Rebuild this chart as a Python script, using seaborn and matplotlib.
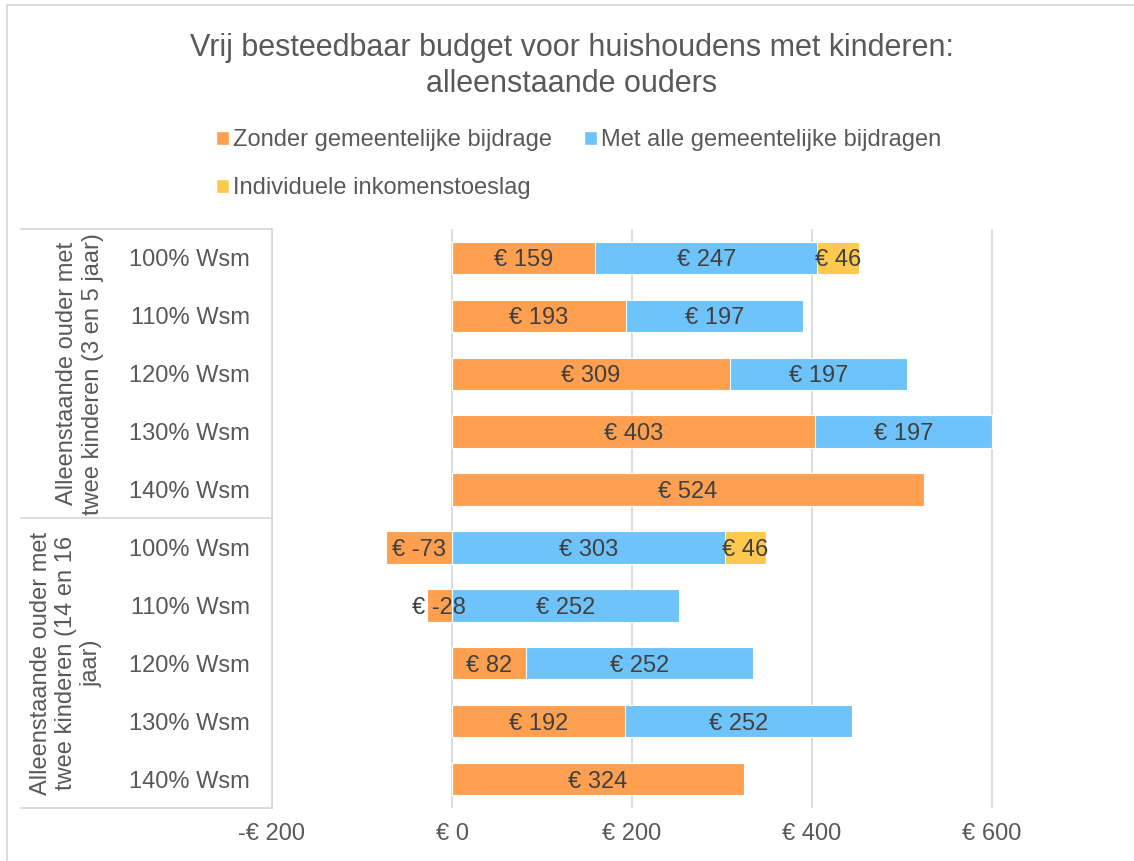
import matplotlib
matplotlib.use("Agg")
import matplotlib.pyplot as plt
import matplotlib.transforms as mtransforms
from matplotlib.patches import Patch
from matplotlib.ticker import FuncFormatter
import numpy as np
import pandas as pd
import seaborn as sns

# data (van boven naar beneden)
groepen = ["Alleenstaande ouder met\ntwee kinderen (3 en 5 jaar)",
           "Alleenstaande ouder met\ntwee kinderen (14 en 16\njaar)"]
wsm = ["100% Wsm", "110% Wsm", "120% Wsm", "130% Wsm", "140% Wsm"]
zonder = [159, 193, 309, 403, 524, -73, -28, 82, 192, 324]
met_alle = [247, 197, 197, 197, 0, 303, 252, 252, 252, 0]
iit = [46, 0, 0, 0, 0, 46, 0, 0, 0, 0]
series = ["Zonder gemeentelijke bijdrage", "Met alle gemeentelijke bijdragen",
          "Individuele inkomenstoeslag"]
kleuren = ["#FF9F50", "#6EC3FB", "#FFC84F"]
xticks = [-200, 0, 200, 400, 600]

sns.set_style("white")
plt.rcParams["font.family"] = ["Liberation Sans", "DejaVu Sans"]
grijs = "#595959"
lijn = "#D9D9D9"

# stapelen zoals Excel: negatief naar links vanaf 0, positief naar rechts
keys = [f"r{i}" for i in range(len(zonder))]
df = pd.DataFrame({"key": keys, "zonder": zonder, "met": met_alle, "iit": iit})
df["z_pos"] = df["zonder"].clip(lower=0)
df["z_neg"] = df["zonder"].clip(upper=0)
df["met_end"] = df["z_pos"] + df["met"]
df["iit_end"] = df["met_end"] + df["iit"]

fig = plt.figure(figsize=(11.34, 8.61), dpi=100)
ax = fig.add_axes([272 / 1134, 1 - 808 / 861, 1 - 272 / 1134, (808 - 229) / 861])

bw = 0.56
kw = dict(y="key", order=keys, orient="h", width=bw, saturation=1,
          edgecolor="white", linewidth=0.8, ax=ax)
sns.barplot(data=df, x="iit_end", color=kleuren[2], **kw)
sns.barplot(data=df, x="met_end", color=kleuren[1], **kw)
sns.barplot(data=df, x="z_pos", color=kleuren[0], **kw)
sns.barplot(data=df, x="z_neg", color=kleuren[0], **kw)

# data labels
for i, r in df.iterrows():
    segs = [(r["zonder"], r["zonder"] / 2),
            (r["met"], r["z_pos"] + r["met"] / 2),
            (r["iit"], r["met_end"] + r["iit"] / 2)]
    for v, xc in segs:
        if v != 0:
            ax.text(xc, i, f"€ {v}", ha="center", va="center_baseline", fontsize=17, color="#404040")

ax.set_xlim(-200, -200 + (1134 - 272) / 0.9)
ax.set_xticks(xticks)
ax.xaxis.set_major_formatter(FuncFormatter(lambda v, p: f"-€ {abs(int(v))}" if v < 0 else f"€ {int(v)}"))
ax.grid(axis="x", color=lijn, linewidth=1.3)
ax.set_axisbelow(True)
ax.set_yticks(range(len(keys)))
ax.set_yticklabels(wsm * 2)
ax.tick_params(axis="y", length=0, pad=16, labelsize=17, labelcolor=grijs)
ax.tick_params(axis="x", length=0, pad=11, labelsize=17, labelcolor=grijs)
ax.set_xlabel("")
ax.set_ylabel("")
for s in ["top", "right", "bottom"]:
    ax.spines[s].set_visible(False)
ax.spines["left"].set_color(lijn)
ax.spines["left"].set_linewidth(1.3)

# tabel met groepslabels links
tr = mtransforms.blended_transform_factory(fig.transFigure, ax.transData)
for yv in [-0.5, 4.5, 9.5]:
    fig.add_artist(plt.Line2D([21 / 1134, 272 / 1134], [yv, yv], transform=tr, color=lijn, linewidth=1.3))
for g, yc, xc in zip(groepen, [2, 7], [80, 66]):
    fig.text(xc / 1134, yc, g, transform=tr, rotation=90, ha="center", va="center",
             multialignment="center", fontsize=17, color=grijs, linespacing=1.2)

# kader
fig.add_artist(plt.Line2D([7 / 1134, 7 / 1134], [0, 1 - 5 / 861], transform=fig.transFigure, color=lijn, linewidth=1.3))
fig.add_artist(plt.Line2D([7 / 1134, 1], [1 - 5 / 861, 1 - 5 / 861], transform=fig.transFigure, color=lijn, linewidth=1.3))

fig.text(572 / 1134, 1 - 66 / 861, "Vrij besteedbaar budget voor huishoudens met kinderen:\nalleenstaande ouders",
         ha="center", va="center", fontsize=22, color=grijs, linespacing=1.3)

handles = [Patch(facecolor=kleuren[0]), Patch(facecolor=kleuren[2]), Patch(facecolor=kleuren[1])]
labels = [series[0], series[2], series[1]]
fig.legend(handles, labels, loc="upper left", bbox_to_anchor=(216 / 1134, 1 - 129 / 861), ncol=2,
           frameon=False, fontsize=17, labelcolor=grijs, handlelength=0.55, handleheight=0.55,
           handletextpad=0.17, columnspacing=1.35, labelspacing=1.1, borderpad=0, borderaxespad=0)

fig.savefig("out.png", dpi=100)
